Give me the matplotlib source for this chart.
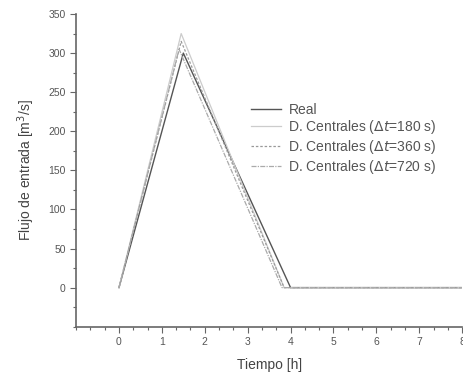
import matplotlib
matplotlib.use("Agg")
import matplotlib.pyplot as plt
from matplotlib.ticker import MultipleLocator, FixedLocator

plt.rcParams['font.family'] = ['Liberation Sans', 'DejaVu Sans']

# data
t_real = [0, 1.5, 4.0, 8.0]
q_real = [0, 300, 0, 0]
t_180 = [0, 1.45, 3.85, 8.0]
q_180 = [0, 325, 0, 0]
t_360 = [0, 1.45, 3.85, 8.0]
q_360 = [0, 315, 0, 0]
t_720 = [0, 1.4, 3.8, 8.0]
q_720 = [0, 305, 0, 0]

xticks = [0, 1, 2, 3, 4, 5, 6, 7, 8]
yticks = [0, 50, 100, 150, 200, 250, 300, 350]

fig = plt.figure(figsize=(4.64, 3.79), dpi=100)
ax = fig.add_axes([0.164, 0.138, 0.832, 0.825])

ax.plot(t_real, q_real, color='#555555', lw=1.0, label='Real')
ax.plot(t_180, q_180, color='#cccccc', lw=0.9, label=r'D. Centrales ($\Delta t$=180 s)')
ax.plot(t_360, q_360, color='#999999', lw=0.9, ls=(0, (2, 1.5)), label=r'D. Centrales ($\Delta t$=360 s)')
ax.plot(t_720, q_720, color='#aaaaaa', lw=0.9, ls=(0, (4, 1, 1, 1)), label=r'D. Centrales ($\Delta t$=720 s)')

ax.set_xlim(-1, 8)
ax.set_ylim(-50, 350)
ax.xaxis.set_major_locator(FixedLocator(xticks))
ax.xaxis.set_minor_locator(MultipleLocator(1/3))
ax.yaxis.set_major_locator(FixedLocator(yticks))
ax.yaxis.set_minor_locator(MultipleLocator(25))

for s in ['top', 'right']:
    ax.spines[s].set_visible(False)
for s in ['left', 'bottom']:
    ax.spines[s].set_color('#666666')
    ax.spines[s].set_linewidth(1.2)

ax.tick_params(which='major', direction='out', length=4, width=0.8, colors='#666666', labelsize=7.5, labelcolor='#555555')
ax.tick_params(which='minor', direction='out', length=2, width=0.8, colors='#666666')

ax.set_xlabel('Tiempo [h]', fontsize=10, color='#444444', labelpad=8)
ax.set_ylabel('Flujo de entrada [m$^3$/s]', fontsize=10, color='#444444', labelpad=8)

leg = ax.legend(loc='upper left', bbox_to_anchor=(0.424, 0.752), frameon=False, fontsize=10,
                handlelength=2.2, handletextpad=0.5, labelspacing=0.12, borderpad=0.3)
for txt in leg.get_texts():
    txt.set_color('#555555')

fig.savefig('out.png', dpi=100)
